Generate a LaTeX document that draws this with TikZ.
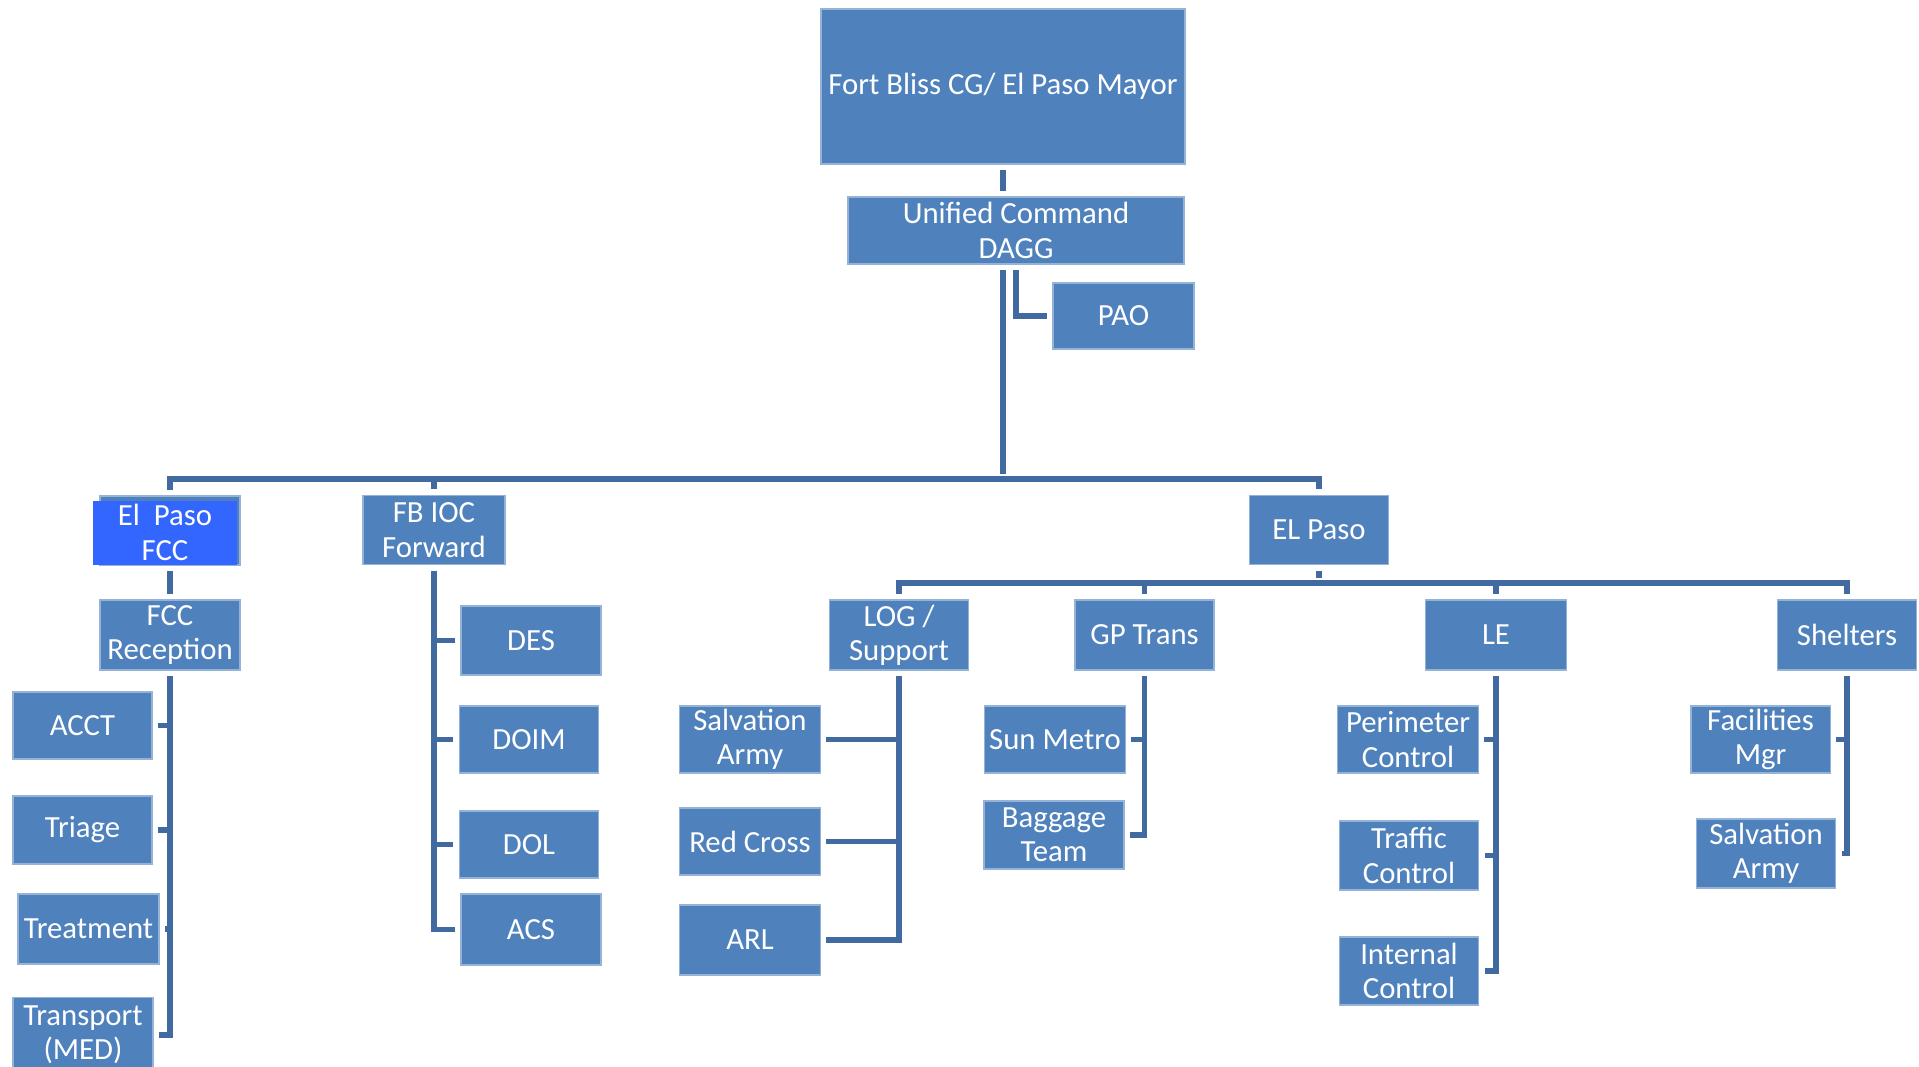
\documentclass[tikz,border=0pt]{standalone}
\usepackage{fontspec}
\setmainfont{Carlito}
\usetikzlibrary{positioning}
\definecolor{boxblue}{RGB}{79,129,189}
\definecolor{boxedge}{RGB}{149,179,215}
\definecolor{hotblue}{RGB}{51,102,255}
\definecolor{linkblue}{RGB}{64,106,160}
\tikzset{
  box/.style={
    rectangle,
    draw=boxedge,
    line width=0.6pt,
    fill=boxblue,
    text=white,
    align=center,
    inner sep=0pt,
    minimum width=2.8cm,
    minimum height=1.36cm,
    font=\fontsize{17.5pt}{19.5pt}\selectfont
  },
  wh/.style 2 args={minimum width=#1*0.02cm, minimum height=#2*0.02cm}
}
\tikzstyle{link} = [draw=linkblue, line width=3.1pt, shorten <=0.11cm, shorten >=0.11cm]
\tikzstyle{drop} = [link, shorten <=0pt]

\begin{document}
\begin{tikzpicture}[x=0.02cm, y=-0.02cm]
    \useasboundingbox (0,0) rectangle (1919,1066);
    \node[box, wh={364}{155}] (fb) at (1003, 86.5) {Fort Bliss CG/ El Paso Mayor};
    \node[box, wh={336}{67}] (uc) at (1016, 230.5) {Unified Command\\DAGG};
    \node[box, wh={141}{66}] (pao) at (1123.5, 316) {PAO};
    \node[box, wh={140}{69}] (fccback) at (170, 530.5) {};
    \node[box, draw=none, fill=hotblue, wh={144.5}{64}] (fcc) at (165, 532.5) {El~ Paso\\FCC};
    \node[box, wh={142}{69}] (fbioc) at (434, 530) {FB IOC\\Forward};
    \node[box, wh={139.5}{69}] (elp) at (1319, 530) {EL Paso};
    \node[box, wh={140}{70}] (rcp) at (170, 635) {FCC\\Reception};
    \node[box, wh={139}{67}] (acct) at (82.5, 725.5) {ACCT};
    \node[box, wh={139}{68}] (tri) at (82.5, 830) {Triage};
    \node[box, wh={141}{70}] (trt) at (88.5, 929) {Treatment};
    \node[box, wh={140}{75}] (trn) at (83, 1035) {Transport\\(MED)};
    \node[box, wh={140}{69}] (des) at (531, 640.5) {DES};
    \node[box, wh={139.5}{67}] (doim) at (529, 739.5) {DOIM};
    \node[box, wh={139.5}{67}] (dol) at (529, 844.5) {DOL};
    \node[box, wh={140}{71}] (acs) at (531, 929.5) {ACS};
    \node[box, wh={139.5}{70}] (log) at (899, 635) {LOG /\\Support};
    \node[box, wh={139}{70}] (gpt) at (1144.5, 635) {GP Trans};
    \node[box, wh={141}{70}] (le) at (1496, 635) {LE};
    \node[box, wh={139.5}{70}] (shl) at (1847, 635) {Shelters};
    \node[box, wh={140.5}{67}] (salv) at (750, 739.5) {Salvation\\Army};
    \node[box, wh={140.5}{67}] (redx) at (750, 841.5) {Red Cross};
    \node[box, wh={140.5}{70}] (arl) at (750, 940) {ARL};
    \node[box, wh={140.5}{67}] (sun) at (1055, 739.5) {Sun Metro};
    \node[box, wh={140}{68}] (bag) at (1054, 835) {Baggage\\Team};
    \node[box, wh={140.5}{67}] (per) at (1408, 739.5) {Perimeter\\Control};
    \node[box, wh={139.5}{69}] (trf) at (1409, 855.5) {Traffic\\Control};
    \node[box, wh={139.5}{68}] (int) at (1409, 971) {Internal\\Control};
    \node[box, wh={139}{67}] (fac) at (1760.5, 739.5) {Facilities\\Mgr};
    \node[box, wh={139.5}{69}] (salvb) at (1766, 853.5) {Salvation\\Army};
    \coordinate (hub) at (1003, 479);
    \coordinate (sub) at (1319, 583);
    \draw[link] (fb.south) -- (fb.south |- uc.north);
    \draw[link] (fb.south |- uc.south) -- (hub);
    \draw[link] (uc.south) |- (pao.west);
    \draw[link] (fccback.north) |- (hub) -| (elp.north);
    \draw[drop] (fbioc.north |- hub) -- (fbioc.north);
    \draw[link] (fccback.south) -- (rcp.north);
    \draw[link] (rcp.south) |- (acct.east);
    \draw[link] (rcp.south) |- (tri.east);
    \draw[link] (rcp.south) |- (trt.east);
    \draw[link] (rcp.south) |- (trn.east);
    \draw[link] (fbioc.south) |- (des.west);
    \draw[link] (fbioc.south) |- (doim.west);
    \draw[link] (fbioc.south) |- (dol.west);
    \draw[link] (fbioc.south) |- (acs.west);
    \draw[link] (elp.south) -- (sub);
    \draw[link] (log.north) |- (sub) -| (shl.north);
    \draw[drop] (gpt.north |- sub) -- (gpt.north);
    \draw[drop] (le.north |- sub) -- (le.north);
    \draw[link] (log.south) |- (salv.east);
    \draw[link] (log.south) |- (redx.east);
    \draw[link] (log.south) |- (arl.east);
    \draw[link] (gpt.south) |- (sun.east);
    \draw[link] (gpt.south) |- (bag.east);
    \draw[link] (le.south) |- (per.east);
    \draw[link] (le.south) |- (trf.east);
    \draw[link] (le.south) |- (int.east);
    \draw[link] (shl.south) |- (fac.east);
    \draw[link] (shl.south) |- (salvb.east);
\end{tikzpicture}
\end{document}
